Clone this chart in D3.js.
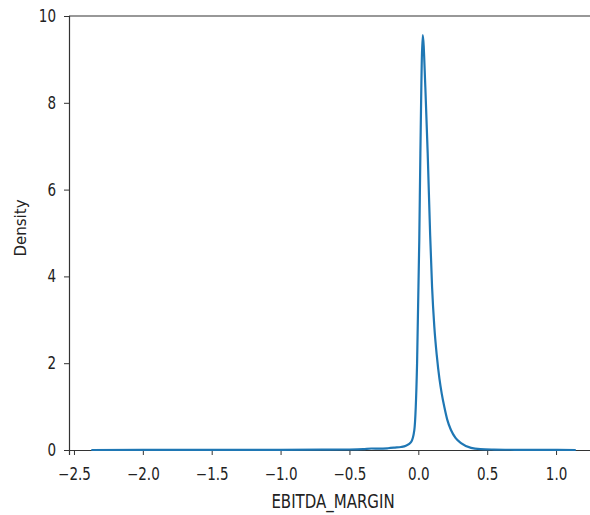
<!DOCTYPE html>
<html lang="en">
<head>
<meta charset="UTF-8">
<title>EBITDA_MARGIN density</title>
<script src="https://d3js.org/d3.v7.min.js"></script>
<style>
  body { margin: 0; background: #fff; }
  text { font-family: "DejaVu Sans", sans-serif; fill: #222; }
  .tick line { stroke: #333; }
  .domain { stroke: #333; }
</style>
</head>
<body>
<svg width="590" height="515"></svg>
<script>
// KDE curve
const xValues = [-2.374, -2.0, -1.5, -1.0, -0.7, -0.5, -0.4, -0.34, -0.28, -0.22, -0.17, -0.126, -0.09, -0.053, -0.029, -0.009, 0.007, 0.015, 0.032, 0.051, 0.068, 0.086, 0.1, 0.116, 0.135, 0.153, 0.17, 0.189, 0.21, 0.237, 0.27, 0.31, 0.383, 0.45, 0.55, 0.7, 0.9, 1.143];
const density = [0.0, 0.002, 0.003, 0.005, 0.008, 0.012, 0.02, 0.035, 0.03, 0.04, 0.055, 0.07, 0.1, 0.18, 0.46, 2.0, 4.84, 6.84, 9.56, 8.36, 6.84, 4.95, 3.75, 2.85, 2.15, 1.65, 1.3, 0.99, 0.7, 0.46, 0.28, 0.16, 0.05, 0.02, 0.01, 0.005, 0.002, 0.0];
const xTicks = [-2.5, -2.0, -1.5, -1.0, -0.5, 0.0, 0.5, 1.0];
const yTicks = [0, 2, 4, 6, 8, 10];

const svg = d3.select("svg");
const mLeft = 69, mTop = 16, mBottom = 450, mRight = 600;
const stretch = 1.28; // the reference text looks taller than wide

const x = d3.scaleLinear().domain([-2.536, 1.319]).range([mLeft, mRight]);
const y = d3.scaleLinear().domain([0, 10]).range([mBottom, mTop]);

const pts = xValues.map((v, i) => [v, density[i]]);

// top spine
svg.append("line").attr("x1", mLeft).attr("x2", mRight).attr("y1", mTop).attr("y2", mTop)
  .attr("stroke", "#333").attr("stroke-width", 1.2);

const xAxis = svg.append("g").attr("transform", `translate(0,${mBottom})`)
  .call(d3.axisBottom(x).tickValues(xTicks).tickFormat(d3.format(".1f")).tickSize(5));
const yAxis = svg.append("g").attr("transform", `translate(${mLeft},0)`)
  .call(d3.axisLeft(y).tickValues(yTicks).tickSize(5).tickPadding(8));

[xAxis, yAxis].forEach(g => {
  g.select(".domain").attr("stroke-width", 1.2);
  g.selectAll("text").style("font-size", "13.5px").attr("transform", `scale(1,${stretch})`);
});
xAxis.selectAll("text").attr("dy", 0).attr("y", 30 / stretch);

svg.append("path")
  .datum(pts)
  .attr("fill", "none")
  .attr("stroke", "#1f77b4")
  .attr("stroke-width", 2.2)
  .attr("stroke-linejoin", "round")
  .attr("d", d3.line().x(d => x(d[0])).y(d => y(d[1])).curve(d3.curveMonotoneX));

svg.append("text")
  .attr("transform", `translate(333,508) scale(1,${stretch})`)
  .attr("text-anchor", "middle")
  .style("font-size", "15px")
  .text("EBITDA_MARGIN");

svg.append("text")
  .attr("transform", "translate(26,228) rotate(-90)")
  .attr("text-anchor", "middle")
  .style("font-size", "15px")
  .text("Density");
</script>
</body>
</html>
